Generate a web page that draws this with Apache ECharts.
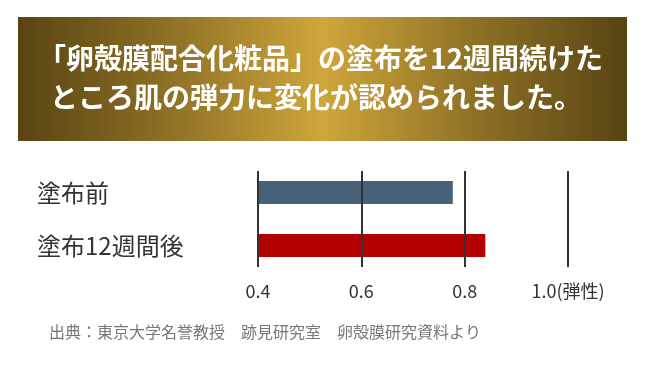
<!DOCTYPE html>
<html>
<head>
<meta charset="utf-8">
<script src="https://cdn.jsdelivr.net/npm/echarts@6/dist/echarts.min.js"></script>
<style>
html,body{margin:0;padding:0;background:#fff;}
#main{width:648px;height:371px;}
</style>
</head>
<body>
<div id="main"></div>
<script>
const titleLines = ['「卵殻膜配合化粧品」の塗布を12週間続けた', 'ところ肌の弾力に変化が認められました。'];
const categories = ['塗布前', '塗布12週間後'];
const values = [0.777, 0.84];
const barColors = ['#466178', '#b30000'];
const tickLabels = {0.4: '0.4', 0.6: '0.6', 0.8: '0.8', 1: '1.0(弾性)'};
const source = '出典：東京大学名誉教授　跡見研究室　卵殻膜研究資料より';

const chart = echarts.init(document.getElementById('main'), null, {renderer: 'canvas'});
const font = '"Noto Sans CJK JP", "Noto Sans", sans-serif';
const option = {
  animation: false,
  backgroundColor: '#ffffff',
  grid: [
    {left: 258, width: 310, top: 171, height: 96},
    {left: 258, width: 310, top: 166, height: 106}
  ],
  xAxis: [
    {gridIndex: 0, type: 'value', min: 0.4, max: 1.0, interval: 0.2, z: 5,
     axisLine: {show: false}, axisTick: {show: false},
     splitLine: {show: true, lineStyle: {color: '#333333', width: 2}},
     axisLabel: {margin: 15, fontSize: 18, color: '#333333', fontFamily: font,
       formatter: v => tickLabels[Math.round(v * 10) / 10] || ''}},
    {gridIndex: 1, type: 'value', min: 0.4, max: 1.0, interval: 0.2, show: false,
     splitLine: {show: false}}
  ],
  yAxis: [
    {gridIndex: 0, type: 'category', data: categories, inverse: true, show: false},
    {gridIndex: 1, type: 'category', data: categories, inverse: true,
     axisLine: {show: false}, axisTick: {show: false}, splitLine: {show: false},
     axisLabel: {align: 'left', margin: 221, fontSize: 24, color: '#333333', fontFamily: font}}
  ],
  series: [{
    type: 'bar', xAxisIndex: 1, yAxisIndex: 1, barWidth: 23,
    data: values.map((v, i) => ({value: v, itemStyle: {color: barColors[i]}}))
  }],
  graphic: [
    {type: 'rect', left: 18, top: 17, z: 0,
     shape: {width: 609, height: 124},
     style: {fill: new echarts.graphic.LinearGradient(0, 0, 1, 0, [
       {offset: 0, color: '#584413'},
       {offset: 0.25, color: '#8f7126'},
       {offset: 0.5, color: '#cfa63b'},
       {offset: 0.75, color: '#8f7126'},
       {offset: 1, color: '#584413'}
     ])}},
    {type: 'text', left: 38, top: 44, z: 2,
     style: {text: titleLines[0], fill: '#ffffff', font: 'bold 28px ' + font,
       shadowColor: 'rgba(0,0,0,0.7)', shadowBlur: 4, shadowOffsetX: 1, shadowOffsetY: 1}},
    {type: 'text', left: 50, top: 83, z: 2,
     style: {text: titleLines[1], fill: '#ffffff', font: 'bold 28px ' + font,
       shadowColor: 'rgba(0,0,0,0.7)', shadowBlur: 4, shadowOffsetX: 1, shadowOffsetY: 1}},
    {type: 'text', left: 49, top: 324, z: 2,
     style: {text: source, fill: '#777777', font: '16px ' + font}}
  ]
};
chart.setOption(option);
</script>
</body>
</html>
